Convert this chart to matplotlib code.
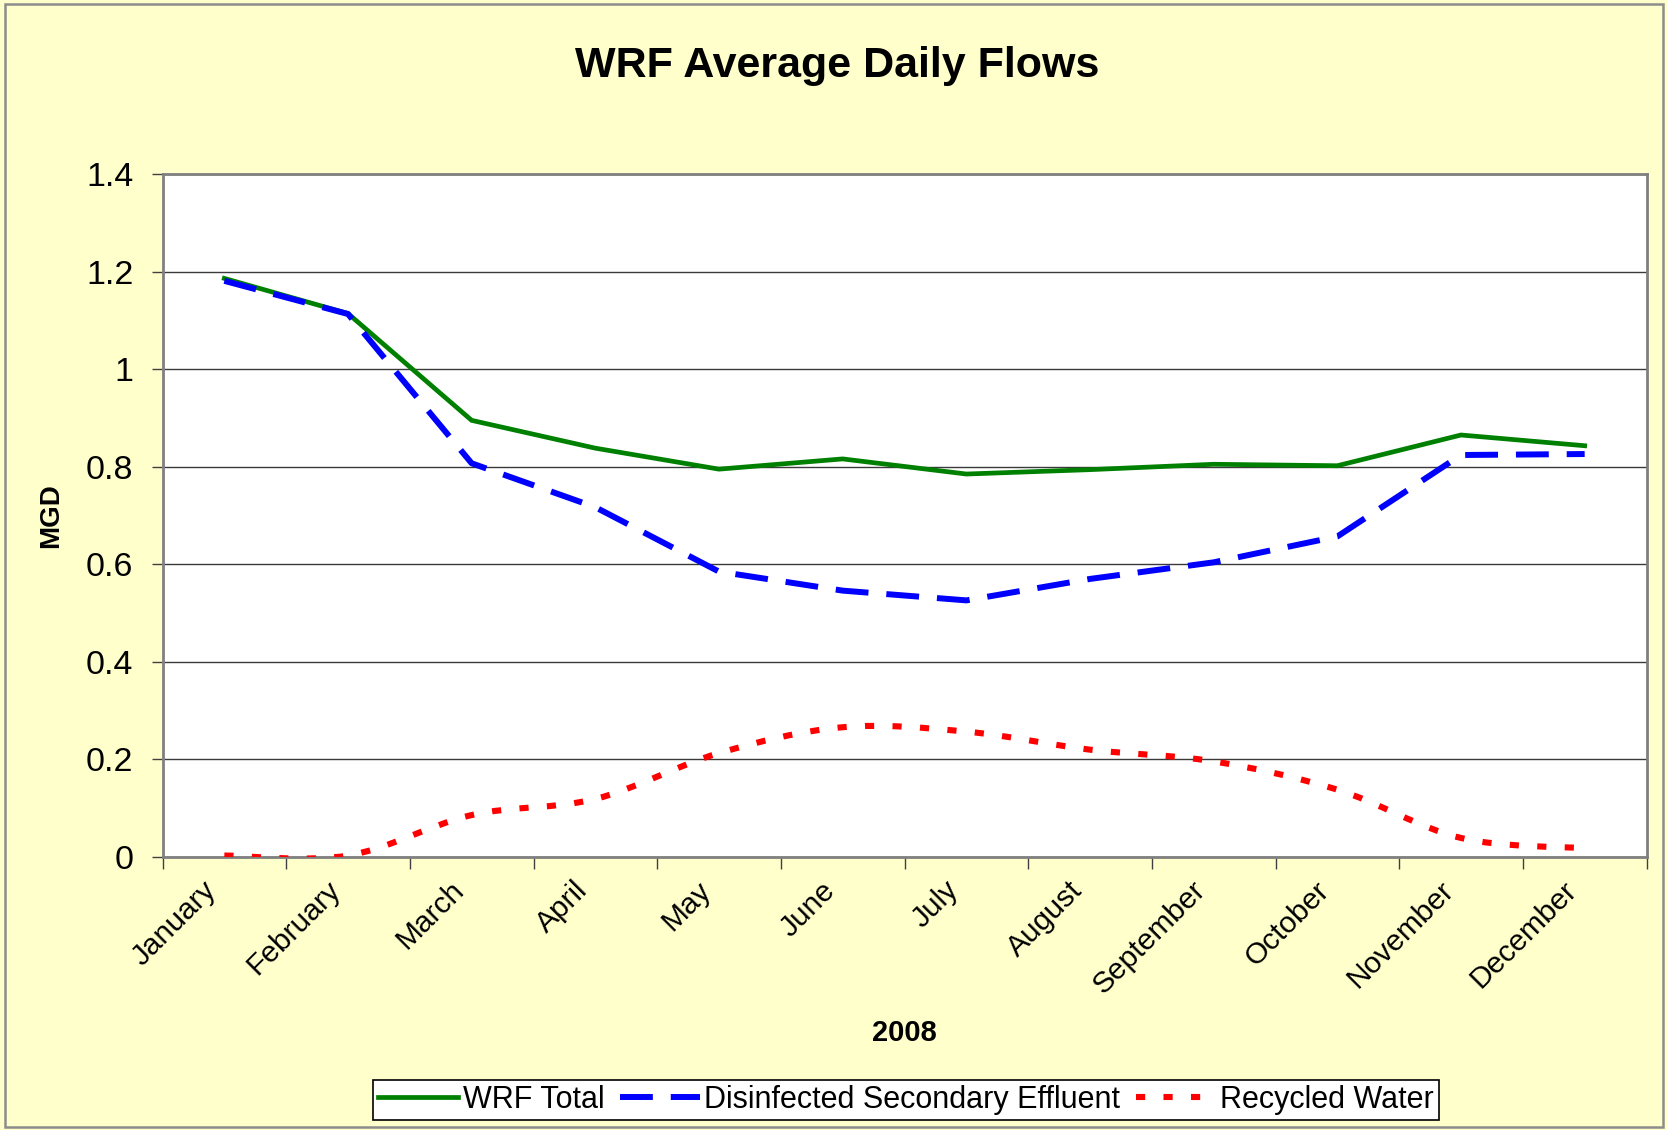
import matplotlib
matplotlib.use("Agg")
import matplotlib.pyplot as plt
import numpy as np
from matplotlib.path import Path
from matplotlib.patches import PathPatch, Rectangle
from matplotlib.lines import Line2D
from matplotlib.transforms import ScaledTranslation

months = ["January", "February", "March", "April", "May", "June", "July",
          "August", "September", "October", "November", "December"]
wrf_total = [1.186, 1.114, 0.895, 0.838, 0.795, 0.816, 0.785, 0.794, 0.805, 0.802, 0.865, 0.843]
disinfected = [1.181, 1.113, 0.807, 0.717, 0.585, 0.546, 0.526, 0.570, 0.604, 0.657, 0.824, 0.826]
recycled = [0.003, 0.003, 0.086, 0.119, 0.213, 0.266, 0.257, 0.220, 0.196, 0.138, 0.039, 0.018]

plt.rcParams['font.family'] = ['Liberation Sans', 'DejaVu Sans']

BG = '#FFFFCC'
W, H = 1667, 1130


def smooth_path(xs, ys):
    # Excel-style smoothed line: cubic bezier through the data points
    pts = np.column_stack([xs, ys]).astype(float)
    n = len(pts)
    verts = [pts[0]]
    codes = [Path.MOVETO]
    for i in range(n - 1):
        p0 = pts[max(i - 1, 0)]
        p1 = pts[i]
        p2 = pts[i + 1]
        p3 = pts[min(i + 2, n - 1)]
        c1 = p1 + (p2 - p0) / 6.0
        c2 = p2 - (p3 - p1) / 6.0
        verts += [c1, c2, p2]
        codes += [Path.CURVE4] * 3
    return Path(verts, codes)


def main():
    fig = plt.figure(figsize=(W / 100, H / 100), dpi=100, facecolor=BG)
    ax = fig.add_axes([162.5 / W, 1 - 857 / H, 1484 / W, 683 / H])
    ax.set_facecolor('white')

    x = np.arange(len(months))

    ax.plot(x, wrf_total, color='#008000', lw=3.4, solid_joinstyle='miter', zorder=3)
    ax.plot(x, disinfected, color='#0000FF', lw=4.3, linestyle=(0, (5.5, 3.0)),
            dash_capstyle='butt', zorder=4)
    red_color, red_lw, red_ls = '#FF0000', 4.4, (0, (1.5, 3.0))
    ax.add_patch(PathPatch(smooth_path(x, recycled), fill=False, edgecolor=red_color,
                           lw=red_lw, linestyle=red_ls, capstyle='butt', zorder=5))

    ax.set_xlim(-0.5, len(months) - 0.5)
    ax.set_ylim(0, 1.4)

    # y axis
    ax.set_yticks(np.arange(0, 1.41, 0.2))
    ax.set_yticklabels(['0', '0.2', '0.4', '0.6', '0.8', '1', '1.2', '1.4'])
    ax.tick_params(axis='y', direction='out', length=8, width=1, color='#404040',
                   labelsize=24.5, pad=13)
    ax.grid(axis='y', color='#3a3a3a', lw=1.0, zorder=1)

    # x axis: ticks between categories, labels at category centres
    ax.set_xticks(np.arange(-0.5, len(months), 1.0))
    ax.set_xticklabels([])
    ax.tick_params(axis='x', which='major', direction='out', length=8.5, width=1, color='#404040')
    lab_tr = ax.get_xaxis_transform() + ScaledTranslation(-0.22, -0.19, fig.dpi_scale_trans)
    for i, m in enumerate(months):
        ax.text(x[i], 0, m, transform=lab_tr, rotation=45, rotation_mode='anchor',
                ha='right', va='top', fontsize=21.5, clip_on=False)

    for s in ax.spines.values():
        s.set_color('#808080')
        s.set_linewidth(2.0)

    fig.text(0.502, 1 - 66 / H, 'WRF Average Daily Flows', ha='center', va='center',
             fontsize=31, fontweight='bold')
    fig.text(51.5 / W, 1 - 515.5 / H, 'MGD', rotation=90, ha='center', va='center',
             fontsize=20, fontweight='bold')
    fig.text(904.5 / W, 1 - 1033 / H, '2008', ha='center', va='center',
             fontsize=21, fontweight='bold')

    handles = [
        Line2D([], [], color='#008000', lw=3.4),
        Line2D([], [], color='#0000FF', lw=4.3, linestyle=(0, (5.5, 3.0))),
        Line2D([], [], color=red_color, lw=red_lw, linestyle=(0, (1.5, 3.0, 1.5, 3.0, 1.5, 6.5))),
    ]
    labels = ['WRF Total', 'Disinfected Secondary Effluent', 'Recycled Water']
    leg = fig.legend(handles, labels, loc='center', bbox_to_anchor=(906 / W, 1 - 1100 / H),
                     ncol=3, fontsize=22, frameon=True, fancybox=False, shadow=False,
                     handlelength=2.62, handletextpad=0.15, columnspacing=0.5,
                     borderpad=0.15, borderaxespad=0)
    leg.get_frame().set_edgecolor('black')
    leg.get_frame().set_linewidth(1.2)
    leg.get_frame().set_facecolor('white')
    leg.get_frame().set_alpha(1)

    fig.patches.append(Rectangle((5 / W, 3 / H), 1658 / W, 1123 / H, transform=fig.transFigure,
                                 fill=False, edgecolor='#8c8c8c', lw=1.8))

    fig.savefig('out.png', dpi=100, facecolor=BG)


if __name__ == "__main__":
    main()
